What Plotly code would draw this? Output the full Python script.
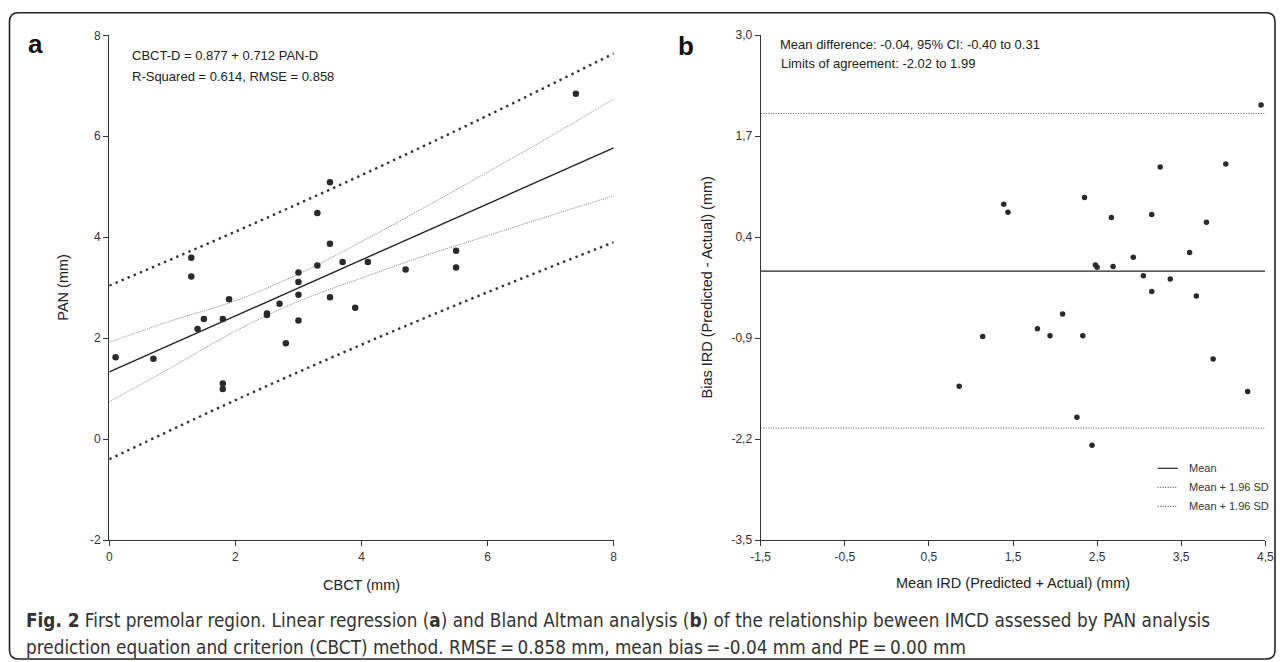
import plotly.graph_objects as go

W, H = 1280, 662


def px(x):
    return x / W


def py(y):
    return 1 - y / H


# ---------------- Panel a data ----------------
cbct = [0.10, 0.70, 1.30, 1.30, 1.40, 1.50, 1.80, 1.80, 1.80, 1.90,
        2.50, 2.50, 2.70, 2.80, 3.00, 3.00, 3.00, 3.00, 3.30, 3.30,
        3.50, 3.50, 3.50, 3.70, 3.90, 4.10, 4.70, 5.50, 5.50, 7.40]
pan = [1.62, 1.59, 3.59, 3.22, 2.18, 2.38, 2.38, 1.10, 0.99, 2.77,
       2.49, 2.46, 2.68, 1.90, 2.35, 2.86, 3.11, 3.30, 4.48, 3.44,
       5.09, 3.87, 2.81, 3.51, 2.60, 3.51, 3.36, 3.73, 3.40, 6.84]
fit_x = [0, 8]
fit_y = [1.33, 5.77]
ci_x = [0, 1, 2, 3, 4, 5, 6, 7, 8]
ci_upper = [1.92, 2.35, 2.74, 3.27, 3.91, 4.59, 5.29, 6.00, 6.74]
ci_lower = [0.74, 1.43, 2.14, 2.73, 3.19, 3.63, 4.03, 4.43, 4.82]
pi_x = [0, 2, 4, 6, 8]
pi_upper = [3.04, 4.11, 5.23, 6.41, 7.64]
pi_lower = [-0.40, 0.77, 1.87, 2.91, 3.90]
a_xticks = [0, 2, 4, 6, 8]
a_xticktext = ["0", "2", "4", "6", "8"]
a_yticks = [-2, 0, 2, 4, 6, 8]
a_yticktext = ["-2", "0", "2", "4", "6", "8"]

# ---------------- Panel b data ----------------
b_mean = [0.86, 1.14, 1.39, 1.44, 1.79, 1.94, 2.09, 2.26, 2.33, 2.35,
          2.44, 2.48, 2.50, 2.67, 2.69, 2.93, 3.05, 3.15, 3.15, 3.25,
          3.37, 3.60, 3.68, 3.80, 3.88, 4.03, 4.29, 4.45]
b_bias = [-1.52, -0.88, 0.82, 0.72, -0.78, -0.87, -0.59, -1.92, -0.87, 0.91,
          -2.28, 0.04, 0.01, 0.65, 0.02, 0.14, -0.10, 0.69, -0.30, 1.30,
          -0.14, 0.20, -0.36, 0.59, -1.17, 1.34, -1.59, 2.10]
b_line_x = [-1.5, 4.5]
b_mean_diff = -0.04
b_loa_upper = 1.99
b_loa_lower = -2.06
b_xticks = [-1.5, -0.5, 0.5, 1.5, 2.5, 3.5, 4.5]
b_xticktext = ["-1,5", "-0,5", "0,5", "1,5", "2,5", "3,5", "4,5"]
b_yticks = [3.0, 1.7, 0.4, -0.9, -2.2, -3.5]
b_yticktext = ["3,0", "1,7", "0,4", "-0,9", "-2,2", "-3,5"]

FONT = "Liberation Sans, Arial, Helvetica, sans-serif"
DARK = "#222222"
AX = "#333333"

fig = go.Figure()

# Panel a traces
fig.add_trace(go.Scatter(x=pi_x, y=pi_upper, mode="lines", xaxis="x", yaxis="y",
                         line=dict(color="#333333", width=2.4, dash="2.4px,4.2px", shape="spline")))
fig.add_trace(go.Scatter(x=pi_x, y=pi_lower, mode="lines", xaxis="x", yaxis="y",
                         line=dict(color="#333333", width=2.4, dash="2.4px,4.2px", shape="spline")))
fig.add_trace(go.Scatter(x=ci_x, y=ci_upper, mode="lines", xaxis="x", yaxis="y",
                         line=dict(color="#808080", width=1, dash="1px,1px", shape="spline")))
fig.add_trace(go.Scatter(x=ci_x, y=ci_lower, mode="lines", xaxis="x", yaxis="y",
                         line=dict(color="#808080", width=1, dash="1px,1px", shape="spline")))
fig.add_trace(go.Scatter(x=fit_x, y=fit_y, mode="lines", xaxis="x", yaxis="y",
                         line=dict(color=DARK, width=1.4)))
fig.add_trace(go.Scatter(x=cbct, y=pan, mode="markers", xaxis="x", yaxis="y",
                         marker=dict(color="#2a2a2a", size=6.5, line=dict(width=0))))

# Panel b traces
fig.add_trace(go.Scatter(x=b_line_x, y=[b_mean_diff] * 2, mode="lines", xaxis="x2", yaxis="y2",
                         line=dict(color=DARK, width=1.3)))
fig.add_trace(go.Scatter(x=b_line_x, y=[b_loa_upper] * 2, mode="lines", xaxis="x2", yaxis="y2",
                         line=dict(color="#555555", width=1, dash="1px,1.5px")))
fig.add_trace(go.Scatter(x=b_line_x, y=[b_loa_lower] * 2, mode="lines", xaxis="x2", yaxis="y2",
                         line=dict(color="#555555", width=1, dash="1px,1.5px")))
fig.add_trace(go.Scatter(x=b_mean, y=b_bias, mode="markers", xaxis="x2", yaxis="y2",
                         marker=dict(color="#2a2a2a", size=5.5, line=dict(width=0))))

axis_common = dict(showgrid=False, zeroline=False, showline=True, linecolor=AX, linewidth=1.3,
                   ticks="outside", ticklen=5, tickwidth=1.2, tickcolor=AX, automargin=False,
                   tickfont=dict(family=FONT, size=12, color="#333333"))

fig.update_layout(
    template="none",
    width=W, height=H,
    margin=dict(l=0, r=0, t=0, b=0, autoexpand=False),
    paper_bgcolor="white", plot_bgcolor="white",
    showlegend=False,
    xaxis=dict(domain=[px(109.3), px(613.7)], range=[0, 8], tickvals=a_xticks,
               ticktext=a_xticktext, anchor="y", **axis_common),
    yaxis=dict(domain=[py(540), py(35.3)], range=[-2, 8], tickvals=a_yticks,
               ticktext=a_yticktext, anchor="x", **axis_common),
    xaxis2=dict(domain=[px(760.7), px(1265.3)], range=[-1.5, 4.5], tickvals=b_xticks,
                ticktext=b_xticktext, anchor="y2", **axis_common),
    yaxis2=dict(domain=[py(540), py(35)], range=[-3.5, 3.0], tickvals=b_yticks,
                ticktext=b_yticktext, anchor="x2", **axis_common),
)


def ann(text, x, y, size, xanchor="left", textangle=0, color="#222222", family=FONT):
    fig.add_annotation(text=text, x=px(x), y=py(y), xref="paper", yref="paper",
                       xanchor=xanchor, yanchor="middle", showarrow=False,
                       textangle=textangle, borderpad=0,
                       font=dict(family=family, size=size, color=color))


# Panel labels
ann("<b>a</b>", 35, 44, 26, xanchor="center", color="#111111")
ann("<b>b</b>", 686, 46, 26, xanchor="center", color="#111111")

# Panel a texts
ann("CBCT-D = 0.877 + 0.712 PAN-D", 130.5, 56, 13)
ann("R-Squared = 0.614, RMSE = 0.858", 130.5, 76.5, 13)
ann("CBCT (mm)", 361.5, 585, 14.5, xanchor="center")
ann("PAN (mm)", 63, 287.7, 14.5, xanchor="center", textangle=-90)

# Panel b texts
ann("Mean difference: -0.04, 95% CI: -0.40 to 0.31", 779, 44, 13)
ann("Limits of agreement: -2.02 to 1.99", 780, 63.5, 13)
ann("Mean IRD (Predicted + Actual) (mm)", 1013, 583, 14.5, xanchor="center")
ann("Bias IRD (Predicted - Actual) (mm)", 706, 287.5, 14.5, xanchor="center", textangle=-90)

# Manual legend in panel b
legend_rows = [("Mean", "solid", DARK, 468.3),
               ("Mean + 1.96 SD", "1px,1.5px", "#555555", 487.3),
               ("Mean + 1.96 SD", "1px,1.5px", "#555555", 506.3)]
for label, dash, col, yy in legend_rows:
    fig.add_shape(type="line", xref="paper", yref="paper",
                  x0=px(1157.7), x1=px(1177.7), y0=py(yy), y1=py(yy),
                  line=dict(color=col, width=1.2, dash=dash))
    ann(label, 1187.5, yy, 11, color="#333333")

# Caption
CAP = "Liberation Sans Narrow, Arial Narrow, DejaVu Sans Condensed, Roboto, sans-serif"
ann("<b>Fig. 2</b> First premolar region. Linear regression (<b>a</b>) and Bland Altman analysis (<b>b</b>) "
    "of the relationship beween IMCD assessed by PAN analysis", 25, 620, 18.8, color="#333333", family=CAP)
ann("prediction equation and criterion (CBCT) method. RMSE\u2009=\u20090.858 mm, mean bias\u2009=\u2009-0.04 mm "
    "and PE\u2009=\u20090.00 mm", 25, 647, 18.8, color="#333333", family=CAP)

# Rounded frame
L, T, R, B, r = 9.5, 12.7, 1275, 659, 9
rx, ry = r / W, r / H
path = (f"M {px(L)+rx},{py(T)} L {px(R)-rx},{py(T)} Q {px(R)},{py(T)} {px(R)},{py(T)-ry} "
        f"L {px(R)},{py(B)+ry} Q {px(R)},{py(B)} {px(R)-rx},{py(B)} "
        f"L {px(L)+rx},{py(B)} Q {px(L)},{py(B)} {px(L)},{py(B)+ry} "
        f"L {px(L)},{py(T)-ry} Q {px(L)},{py(T)} {px(L)+rx},{py(T)} Z")
fig.add_shape(type="path", path=path, xref="paper", yref="paper",
              line=dict(color="#222222", width=1.6), fillcolor="rgba(0,0,0,0)")

fig.write_html("out.html")
